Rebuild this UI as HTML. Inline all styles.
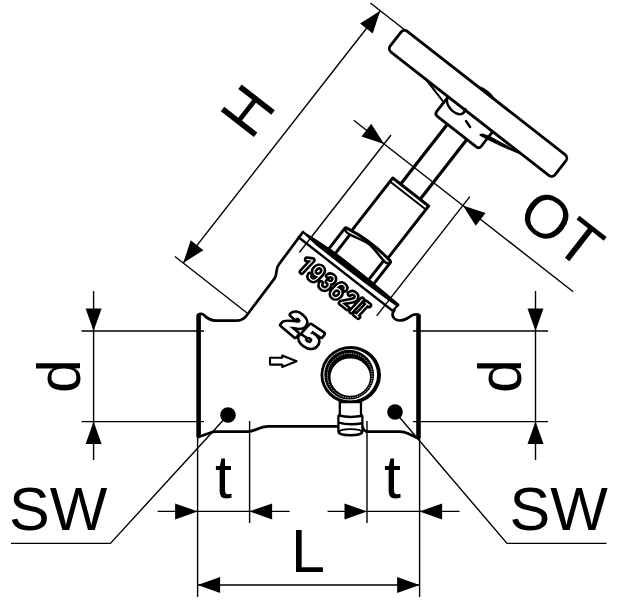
<!DOCTYPE html>
<html><head><meta charset="utf-8"><style>
html,body{margin:0;padding:0;background:#fff;}
svg{display:block;}
text{font-family:"Liberation Sans",sans-serif;}
</style></head><body>
<svg width="630" height="600" viewBox="0 0 630 600">
<rect width="630" height="600" fill="#fff"/>
<defs>
<path id="ah" d="M0,0 L-22.5,-8 L-22.5,8 Z"/>
</defs>

<!-- ===== thin dimension / extension lines ===== -->
<g stroke="#000" stroke-width="1.4" fill="none">
 <!-- d left -->
 <line x1="81.5" y1="331" x2="204" y2="331"/>
 <line x1="81.5" y1="421.6" x2="204" y2="421.6"/>
 <line x1="93.6" y1="291" x2="93.6" y2="460"/>
 <!-- d right -->
 <line x1="413" y1="331" x2="548" y2="331"/>
 <line x1="413" y1="421.6" x2="548" y2="421.6"/>
 <line x1="535.5" y1="291" x2="535.5" y2="460"/>
 <!-- t / L extension -->
 <line x1="197.6" y1="437" x2="197.6" y2="597"/>
 <line x1="249.6" y1="421" x2="249.6" y2="523"/>
 <line x1="367" y1="421" x2="367" y2="523"/>
 <line x1="419.6" y1="437" x2="419.6" y2="597"/>
 <!-- t dim -->
 <line x1="157.6" y1="511.4" x2="289.6" y2="511.4"/>
 <line x1="327.6" y1="511.4" x2="459.6" y2="511.4"/>
 <!-- L dim -->
 <line x1="197.6" y1="585" x2="419.6" y2="585"/>
 <!-- SW leaders -->
 <polyline points="11,543.4 110.4,543.4 228,415"/>
 <polyline points="606.5,543.4 507,543.4 395,412"/>
</g>
<g fill="#000">
 <use href="#ah" transform="translate(93.6,331) rotate(90)"/>
 <use href="#ah" transform="translate(93.6,421.6) rotate(-90)"/>
 <use href="#ah" transform="translate(535.5,331) rotate(90)"/>
 <use href="#ah" transform="translate(535.5,421.6) rotate(-90)"/>
 <use href="#ah" transform="translate(197.6,511.4)"/>
 <use href="#ah" transform="translate(249.6,511.4) rotate(180)"/>
 <use href="#ah" transform="translate(367,511.4)"/>
 <use href="#ah" transform="translate(419.6,511.4) rotate(180)"/>
 <use href="#ah" transform="translate(197.6,585) rotate(180)"/>
 <use href="#ah" transform="translate(419.6,585)"/>
</g>

<!-- ===== axis-aligned group: x along stem axis, y perpendicular ===== -->
<g transform="translate(478.5,103.5) rotate(-52)">
 <!-- thin lines -->
 <g stroke="#000" stroke-width="1.4" fill="none">
  <line x1="-307.5" y1="-134.5" x2="12.6" y2="-134.5"/>
  <line x1="-307.5" y1="-145" x2="-307.5" y2="-53"/>
  <line x1="12.6" y1="-147" x2="12.6" y2="-100"/>
  <line x1="-90" y1="-88" x2="-90" y2="190.5"/>
  <line x1="-78.7" y1="-49.5" x2="-227.7" y2="-49.5"/>
  <line x1="-78.7" y1="50.5" x2="-230" y2="50.5"/>
 </g>
 <g fill="#000">
  <use href="#ah" transform="translate(-307.5,-134.5) rotate(180)"/>
  <use href="#ah" transform="translate(12.6,-134.5)"/>
  <use href="#ah" transform="translate(-90,-49.5) rotate(90)"/>
  <use href="#ah" transform="translate(-90,50.5) rotate(-90)"/>
 </g>

 <g stroke="#000" stroke-width="2.4" fill="#fff" stroke-linejoin="round" stroke-linecap="round">
  <!-- stem -->
  <path d="M-112,-11.7 L-34,-11.7 M-112,13 L-34,13" fill="none" stroke-width="3.2"/>
  <!-- hub -->
  <path d="M-10,-28 L-32,-28 Q-35.5,-28 -35.5,-24.5 L-35.5,25 Q-35.5,28.5 -32,28.5 L-10,28.5 Z" stroke-width="2.8"/>
  <!-- handwheel -->
  <rect x="-13.4" y="-105" width="26.4" height="209.2" rx="4.5" ry="4.5" stroke-width="2.8"/>
  <!-- hub details -->
  <path d="M-13.4,-56 L-20.5,-28" fill="none" stroke-width="2"/><path d="M-14,-28 C-20,-27 -23,-18 -21.5,-12 C-20.5,-7 -17,-4.5 -12.5,-7" fill="none" stroke-width="2.5"/>
  <path d="M-21.5,1 L-23.7,7.8" fill="none" stroke-width="2.5"/>
  <path d="M-23.6,20.7 C-21.5,34 -17,52 -13.2,66 C-15.5,54 -17.5,42 -19.8,28.5 L-22,22 Z" fill="#000" stroke-width="1.8"/>
  <path d="M13.6,-9.5 C15.6,-5 15.6,4 13.6,9 Z" fill="#000" stroke-width="1.2"/>
  <!-- cylinder -->
  <path d="M-176,-21.7 L-111.5,-21.7 L-111.5,23.8 L-176,23.8" stroke-width="2.9"/>
  <path d="M-116,-21.7 L-116,23.8" fill="none" stroke-width="2"/>
  <!-- nut -->
  <path d="M-207,-28.5 L-181,-28.5 Q-179.6,-28.5 -179.3,-27 Q-174.2,0 -178.3,27 Q-178.8,28.5 -180,28.5 L-207,28.5 Z" stroke-width="3"/>
  <path d="M-181,-28 C-183,-26 -183,-23 -182.4,-20.5 C-180.5,-11 -178.4,-5 -178.2,1 C-178.4,7 -180.5,13 -182.2,22 C-182.8,25 -182.5,27 -180.5,28" fill="none" stroke-width="2.4"/>
  <path d="M-183.5,-20.5 L-207,-20.5 M-183.3,22 L-207,22" fill="none" stroke-width="2.9"/>
 </g>
 <!-- flange -->
 <path d="M-208.6,-59.8 Q-205.2,-30 -205.3,-5 Q-205.4,30 -206.8,61 L-210.4,60.6 Q-211.8,20 -211.8,-10 L-211.8,-40 L-210.2,-59.8 Z" fill="#000"/>
 <g stroke="#000" stroke-width="2.4" fill="none" stroke-linejoin="round" stroke-linecap="round">
  <path d="M-216.2,-59.5 L-216.2,60.3"/>
  <path d="M-208,61 L-216,59.6" stroke-width="2"/>
 </g>
</g>

<!-- ===== body ===== -->
<g stroke="#000" stroke-width="2.7" fill="none" stroke-linejoin="round" stroke-linecap="round">
 <!-- top-left and neck -->
 <path d="M198.5,314.5 Q201,313 204,315 Q209,320.6 216,320.6 L237,320.6 Q243.5,320.6 247.6,314.2 L274.6,278.4 C278,272.5 275,269.5 278.8,264.5 L303,232"/>
 <!-- right of flange to right end -->
 <path d="M394.5,310 C390,315 394,320.5 400,320.5 C408,320.5 410,314 416,314.3 L418.5,314.5"/>
 <!-- bottom -->
 <path d="M198.5,437 L211,432.5 Q213,431.6 216,431.6 L248,431.6 C256,431.6 258,426.4 268,426.4 L338,426.4"/>
 <path d="M362.5,426.8 Q364,431.6 368,431.6 L400,431.6 Q404,431.6 408,433.5 L418.5,438.5"/>
</g>
<g stroke="#000" stroke-width="4.6" fill="none">
 <line x1="198.6" y1="314.5" x2="198.6" y2="437"/>
 <line x1="418.5" y1="314.5" x2="418.5" y2="438"/>
</g>
<!-- dots -->
<circle cx="228" cy="415" r="7.8" fill="#000"/>
<circle cx="395" cy="412" r="7.8" fill="#000"/>

<!-- ring -->
<ellipse cx="350.75" cy="375" rx="30.25" ry="29" fill="#000"/>
<ellipse cx="350.2" cy="374.75" rx="26.9" ry="25.8" fill="#fff"/>
<ellipse cx="349.2" cy="374.7" rx="24.9" ry="24.9" fill="#000"/>
<ellipse cx="349.8" cy="375.6" rx="22.4" ry="22.2" fill="none" stroke="#fff" stroke-width="0.9" stroke-dasharray="1.1 1.3"/>
<ellipse cx="350.25" cy="377.1" rx="19.75" ry="18.7" fill="#fff"/>
<!-- barb -->
<g stroke="#000" stroke-width="2.3" fill="#fff" stroke-linejoin="round">
 <path d="M339.8,402 L339.8,414.5 L338.4,416 L338.4,431.5 Q338.4,435.4 350.4,435.4 Q362.4,435.4 362.4,431.5 L362.4,416 L361,414.5 L361,402 Z"/>
 <path d="M338.4,415.4 Q350,418.2 362.4,415.8 M338.4,422.6 Q350,425.6 362.4,423.2" fill="none" stroke-width="2.5"/>
 <ellipse cx="350.4" cy="432" rx="11.3" ry="2.9" stroke-width="1.9"/>
</g>

<!-- flow arrow -->
<path d="M270,357.8 L282.2,357.8 L282.2,355.6 L296.6,361.2 L282.2,366.9 L282.2,364.6 L270,364.6 Z" fill="#fff" stroke="#000" stroke-width="2.1" stroke-linejoin="round"/>

<!-- embossed texts -->
<g fill="none" stroke-linejoin="round" stroke-linecap="round">
 <path stroke="#000" stroke-width="6.3" d="M 306.95,259.43 L 312.59,260.22 L 301.68,271.92 M 321.71,273.59 C 323.62,271.54 323.66,269.02 321.77,267.53 C 319.89,266.03 317.21,266.44 315.30,268.49 C 313.39,270.53 313.35,273.05 315.23,274.55 C 317.11,276.04 319.80,275.63 321.71,273.59 L 317.20,278.41 C 315.16,280.61 312.75,280.72 310.86,279.23 C 309.29,277.97 308.85,276.35 309.77,274.79 M 328.02,276.06 C 329.55,274.99 331.25,275.06 332.83,276.32 C 334.71,277.81 334.81,279.80 333.31,281.41 C 331.74,283.09 329.66,283.23 327.63,281.61 C 329.87,283.39 329.89,285.45 328.12,287.35 C 326.21,289.40 323.80,289.52 321.92,288.02 C 320.24,286.68 319.94,284.92 320.89,283.13 M 344.97,289.54 C 345.89,287.99 345.56,286.44 343.88,285.11 C 342.00,283.61 339.31,284.02 337.27,286.22 L 333.04,290.75 C 331.13,292.80 331.09,295.31 332.97,296.81 C 334.85,298.31 337.54,297.90 339.45,295.85 C 341.36,293.80 341.40,291.29 339.52,289.79 C 337.63,288.29 334.95,288.70 333.04,290.75 M 349.75,293.85 C 351.45,292.41 353.26,292.57 354.93,293.90 C 356.82,295.40 357.08,297.39 355.58,299.00 C 353.94,300.76 350.95,300.93 346.87,301.50 L 341.09,302.76 L 340.82,303.05 L 347.23,308.15 M 362.19,299.67 L 351.28,311.37 M 365.89,302.62 L 369.15,305.21 M 367.52,303.91 L 356.61,315.61 M 354.98,314.32 L 358.23,316.91"/>
 <path stroke="#fff" stroke-width="1.2" d="M 306.95,259.43 L 312.59,260.22 L 301.68,271.92 M 321.71,273.59 C 323.62,271.54 323.66,269.02 321.77,267.53 C 319.89,266.03 317.21,266.44 315.30,268.49 C 313.39,270.53 313.35,273.05 315.23,274.55 C 317.11,276.04 319.80,275.63 321.71,273.59 L 317.20,278.41 C 315.16,280.61 312.75,280.72 310.86,279.23 C 309.29,277.97 308.85,276.35 309.77,274.79 M 328.02,276.06 C 329.55,274.99 331.25,275.06 332.83,276.32 C 334.71,277.81 334.81,279.80 333.31,281.41 C 331.74,283.09 329.66,283.23 327.63,281.61 C 329.87,283.39 329.89,285.45 328.12,287.35 C 326.21,289.40 323.80,289.52 321.92,288.02 C 320.24,286.68 319.94,284.92 320.89,283.13 M 344.97,289.54 C 345.89,287.99 345.56,286.44 343.88,285.11 C 342.00,283.61 339.31,284.02 337.27,286.22 L 333.04,290.75 C 331.13,292.80 331.09,295.31 332.97,296.81 C 334.85,298.31 337.54,297.90 339.45,295.85 C 341.36,293.80 341.40,291.29 339.52,289.79 C 337.63,288.29 334.95,288.70 333.04,290.75 M 349.75,293.85 C 351.45,292.41 353.26,292.57 354.93,293.90 C 356.82,295.40 357.08,297.39 355.58,299.00 C 353.94,300.76 350.95,300.93 346.87,301.50 L 341.09,302.76 L 340.82,303.05 L 347.23,308.15 M 362.19,299.67 L 351.28,311.37 M 365.89,302.62 L 369.15,305.21 M 367.52,303.91 L 356.61,315.61 M 354.98,314.32 L 358.23,316.91"/>
</g>
<g stroke-linejoin="round">
 <path fill="#000" stroke="#000" stroke-width="6.0" d="M281.96 325.00 283.74 323.02Q285.59 322.41 288.01 322.39Q290.43 322.37 293.64 322.84Q296.73 323.29 298.25 323.17Q299.76 323.05 300.45 322.29Q302.13 320.42 299.64 318.33Q298.43 317.31 297.35 317.27Q296.26 317.23 295.19 318.05L291.52 314.69Q293.64 312.97 296.23 313.31Q298.82 313.65 301.66 316.03Q304.73 318.61 305.42 321.04Q306.12 323.48 304.40 325.39Q303.49 326.39 302.23 326.77Q300.98 327.14 299.54 327.14Q298.10 327.13 296.56 326.89Q295.01 326.65 293.56 326.43Q292.10 326.20 290.81 326.13Q289.51 326.06 288.54 326.41L297.35 333.80L295.23 336.14Z"/>
 <path fill="#fff" stroke="#fff" stroke-width="1.0" d="M281.96 325.00 283.74 323.02Q285.59 322.41 288.01 322.39Q290.43 322.37 293.64 322.84Q296.73 323.29 298.25 323.17Q299.76 323.05 300.45 322.29Q302.13 320.42 299.64 318.33Q298.43 317.31 297.35 317.27Q296.26 317.23 295.19 318.05L291.52 314.69Q293.64 312.97 296.23 313.31Q298.82 313.65 301.66 316.03Q304.73 318.61 305.42 321.04Q306.12 323.48 304.40 325.39Q303.49 326.39 302.23 326.77Q300.98 327.14 299.54 327.14Q298.10 327.13 296.56 326.89Q295.01 326.65 293.56 326.43Q292.10 326.20 290.81 326.13Q289.51 326.06 288.54 326.41L297.35 333.80L295.23 336.14Z"/>
 <path fill="#000" stroke="#000" stroke-width="6.0" d="M316.32 344.78Q314.43 347.20 311.28 347.25Q308.13 347.31 304.59 344.92Q301.50 342.84 300.45 340.55Q299.39 338.27 300.48 336.03L304.77 338.54Q304.33 339.73 304.80 340.72Q305.27 341.71 306.51 342.55Q308.04 343.58 309.52 343.47Q310.99 343.36 312.05 342.01Q312.99 340.81 312.69 339.51Q312.39 338.22 310.84 337.18Q309.14 336.03 307.29 336.28L303.30 333.59L310.69 325.52L323.03 333.85L321.27 336.10L312.65 330.28L309.31 333.89Q311.56 333.92 313.79 335.43Q316.72 337.40 317.42 339.94Q318.13 342.47 316.32 344.78Z"/>
 <path fill="#fff" stroke="#fff" stroke-width="1.0" d="M316.32 344.78Q314.43 347.20 311.28 347.25Q308.13 347.31 304.59 344.92Q301.50 342.84 300.45 340.55Q299.39 338.27 300.48 336.03L304.77 338.54Q304.33 339.73 304.80 340.72Q305.27 341.71 306.51 342.55Q308.04 343.58 309.52 343.47Q310.99 343.36 312.05 342.01Q312.99 340.81 312.69 339.51Q312.39 338.22 310.84 337.18Q309.14 336.03 307.29 336.28L303.30 333.59L310.69 325.52L323.03 333.85L321.27 336.10L312.65 330.28L309.31 333.89Q311.56 333.92 313.79 335.43Q316.72 337.40 317.42 339.94Q318.13 342.47 316.32 344.78Z"/>
</g>

<!-- labels -->
<g fill="#000" font-size="61">
 <text x="9" y="530">SW</text>
 <text x="509.5" y="530">SW</text>
 <text x="291" y="572.4">L</text>
 <text x="215" y="498">t</text>
 <text x="384" y="498">t</text>
 <text transform="translate(79.6,393) rotate(-90)">d</text>
 <text transform="translate(520.8,393) rotate(-90)">d</text>
 <text transform="translate(247,110) rotate(-52)" text-anchor="middle" y="22">H</text>
 <text transform="translate(562,227.5) rotate(38)" text-anchor="middle" y="22">OT</text>
</g>
</svg>
</body></html>
